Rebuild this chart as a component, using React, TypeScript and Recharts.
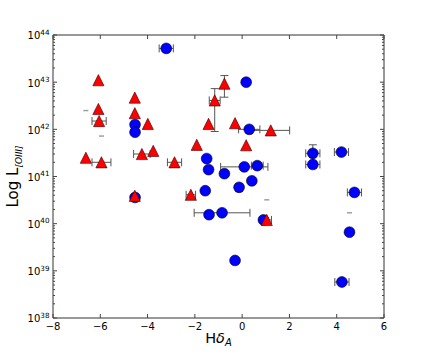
import React from 'react';
import { ScatterChart, Scatter, XAxis, YAxis, ErrorBar, ReferenceArea } from 'recharts';

// ---- data ----
const circleX = [-3.21, 0.17, 0.30, -4.53, -4.53, -4.53, -1.50, -1.42, -0.75, 0.09, 0.64, -1.56, -0.13, 0.41, -1.40, -0.85, 0.90, -0.30, 2.99, 2.99, 4.20, 4.75, 4.54, 4.22];
const circleY = [5.2e43, 1.0e43, 1.0e42, 1.26e42, 8.7e41, 3.6e40, 2.4e41, 1.4e41, 1.15e41, 1.6e41, 1.7e41, 5.0e40, 5.9e40, 8.1e40, 1.55e40, 1.7e40, 1.2e40, 1.66e39, 3.1e41, 1.8e41, 3.3e41, 4.6e40, 6.6e39, 5.8e38];
const circleXErr = [0.3, 0, 0.45, 0, 0, 0, 0, 0, 0, 1.0, 0.25, 0, 0.15, 0, 0, 1.18, 0, 0, 0.3, 0.3, 0.3, 0.3, 0, 0.3];
const circleYErr = [0, 0, 0, 0, 0, 0, 0, 0, 0, 0, 0, 0, 0, 0, 0, 0, 0, 0, 1.6e41, 0, 0, 0, 0, 0];

const triX = [-6.08, -6.08, -6.05, -4.54, -4.54, -3.99, -6.61, -5.95, -4.24, -3.76, -4.54, -0.75, -1.16, -1.42, -0.30, 1.21, -1.92, 0.17, -2.86, -2.17, 1.04];
const triY = [1.1e43, 2.7e42, 1.5e42, 4.7e42, 2.2e42, 1.3e42, 2.5e41, 2.0e41, 3.0e41, 3.5e41, 3.9e40, 9.3e42, 4.1e42, 1.3e42, 1.35e42, 9.5e41, 4.7e41, 4.6e41, 2.0e41, 4.1e40, 1.2e40];
const triXErr = [0, 0, 0.3, 0, 0, 0, 0, 0.4, 0.35, 0, 0, 0, 0.23, 0, 0, 0.8, 0, 0, 0.3, 0.2, 0.2];
const triYErr = [0, 0, 0, 0, 0, 0, 0, 0, 0, 0, 0, 4.5e42, 3.2e42, 0, 0, 0, 0, 0, 0, 0, 0];

const dashX = [-6.61, -5.95, 1.04, 4.54];
const dashY = [2.5e42, 7.2e41, 3.2e40, 1.7e40];

const xTicks = [-8, -6, -4, -2, 0, 2, 4, 6];
const yExponents = [38, 39, 40, 41, 42, 43, 44];
const minorMultipliers = [2, 3, 4, 5, 6, 7, 8, 9];

// ---- derived tables ----
const circles = circleX.map((x, i) => ({ x, y: circleY[i], xe: circleXErr[i] || undefined, ye: circleYErr[i] || undefined }));
const triangles = triX.map((x, i) => ({ x, y: triY[i], xe: triXErr[i] || undefined, ye: triYErr[i] || undefined }));
const dashes = dashX.map((x, i) => ({ x, y: dashY[i] }));

const yMajor = yExponents.map((e) => Number(`1e${e}`));
const yMinor: number[] = [];
yExponents.slice(0, -1).forEach((e) => minorMultipliers.forEach((m) => yMinor.push(Number(`${m}e${e}`))));
const yTicks = [...yMajor, ...yMinor].sort((a, b) => a - b);

// ---- layout ----
const W = 426;
const H = 354;
const M = { top: 35, right: 42, bottom: 0, left: 0 };
const YAXIS_W = 53;
const XAXIS_H = 36;
const PL = M.left + YAXIS_W;
const PR = W - M.right;
const PT = M.top;
const PB = H - M.bottom - XAXIS_H;
const FONT = 'DejaVu Sans, Verdana, sans-serif';
const TICK_COLOR = '#444';
const ERR_COLOR = '#555';

const YTick = (props: any) => {
  const { y, payload } = props;
  const v = payload.value;
  const lg = Math.log10(v);
  const exp = Math.round(lg);
  const major = Math.abs(lg - exp) < 1e-6;
  const len = major ? 4 : 2;
  return (
    <g>
      <line x1={PL} x2={PL + len} y1={y} y2={y} stroke={TICK_COLOR} strokeWidth={1} />
      <line x1={PR - len} x2={PR} y1={y} y2={y} stroke={TICK_COLOR} strokeWidth={1} />
      {major && (
        <text x={PL - 3.5} y={y + 4.4} textAnchor="end" fontFamily={FONT} fontSize={10} fill="#000">
          <tspan>10</tspan>
          <tspan dy={-4.6} fontSize={7.2}>{exp}</tspan>
        </text>
      )}
    </g>
  );
};

const XTick = (props: any) => {
  const { x, payload } = props;
  const v = payload.value;
  const label = v < 0 ? `\u2212${Math.abs(v)}` : `${v}`;
  return (
    <g>
      <line x1={x} x2={x} y1={PB} y2={PB - 4} stroke={TICK_COLOR} strokeWidth={1} />
      <line x1={x} x2={x} y1={PT} y2={PT + 4} stroke={TICK_COLOR} strokeWidth={1} />
      <text x={x} y={PB + 11.5} textAnchor="middle" fontFamily={FONT} fontSize={10} fill="#000">
        {label}
      </text>
    </g>
  );
};

const CircleShape = (props: any) => {
  const { cx, cy } = props;
  if (cx == null || cy == null) return null;
  return <circle cx={cx} cy={cy} r={5.4} fill="#0000ff" stroke="#000" strokeWidth={0.6} />;
};

const TriangleShape = (props: any) => {
  const { cx, cy } = props;
  if (cx == null || cy == null) return null;
  const h = 5.6;
  return (
    <path
      d={`M${cx},${cy - h} L${cx + h},${cy + h} L${cx - h},${cy + h} Z`}
      fill="#ff0000"
      stroke="#300"
      strokeWidth={0.6}
    />
  );
};

const DashShape = (props: any) => {
  const { cx, cy } = props;
  if (cx == null || cy == null) return null;
  return <line x1={cx - 2.5} x2={cx + 2.5} y1={cy} y2={cy} stroke="#999" strokeWidth={1.4} />;
};

export default function App() {
  return (
    <div style={{ position: 'absolute', left: 0, top: 0, width: W, height: H, background: '#fff' }}>
      <ScatterChart width={W} height={H} margin={M}>
        <XAxis
          type="number"
          dataKey="x"
          domain={[-8, 6]}
          ticks={xTicks}
          interval={0}
          allowDataOverflow
          height={XAXIS_H}
          tickLine={false}
          axisLine={false}
          tick={<XTick />}
        />
        <YAxis
          type="number"
          dataKey="y"
          scale="log"
          domain={[1e38, 1e44]}
          ticks={yTicks}
          interval={0}
          allowDataOverflow
          width={YAXIS_W}
          tickLine={false}
          axisLine={false}
          tick={<YTick />}
        />
        <ReferenceArea x1={-8} x2={6} y1={1e38} y2={1e44} fill="none" fillOpacity={0} stroke="#333" strokeWidth={1} ifOverflow="visible" />
        <Scatter data={dashes} shape={<DashShape />} isAnimationActive={false} />
        <Scatter data={circles} shape={<CircleShape />} isAnimationActive={false}>
          <ErrorBar dataKey="xe" direction="x" width={4} stroke={ERR_COLOR} strokeWidth={1} />
          <ErrorBar dataKey="ye" direction="y" width={4} stroke={ERR_COLOR} strokeWidth={1} />
        </Scatter>
        <Scatter data={triangles} shape={<TriangleShape />} isAnimationActive={false}>
          <ErrorBar dataKey="xe" direction="x" width={4} stroke={ERR_COLOR} strokeWidth={1} />
          <ErrorBar dataKey="ye" direction="y" width={4} stroke={ERR_COLOR} strokeWidth={1} />
        </Scatter>
      </ScatterChart>
      <svg width={W} height={H} style={{ position: 'absolute', left: 0, top: 0, pointerEvents: 'none' }}>
        <text x={(PL + PR) / 2} y={342.7} textAnchor="middle" fontFamily={FONT} fontSize={14.5} fill="#000">
          <tspan>H</tspan>
          <tspan fontStyle="italic">δ</tspan>
          <tspan fontStyle="italic" fontSize={10} dy={3}>A</tspan>
        </text>
        <text
          x={0}
          y={0}
          transform={`translate(17.5, ${(PT + PB) / 2}) rotate(-90)`}
          textAnchor="middle"
          fontFamily={FONT}
          fontSize={15}
          fill="#000"
        >
          <tspan>Log L</tspan>
          <tspan fontStyle="italic" fontSize={9} dy={4}>[OIII]</tspan>
        </text>
      </svg>
    </div>
  );
}
